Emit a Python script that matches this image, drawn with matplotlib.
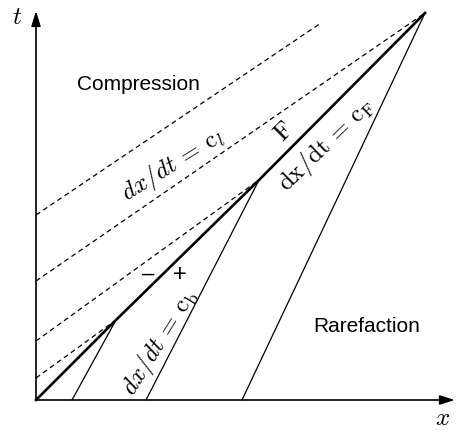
import matplotlib

matplotlib.use("Agg")
import matplotlib.pyplot as plt

plt.rcParams["mathtext.fontset"] = "cm"
plt.rcParams["lines.scale_dashes"] = False

# front (thick line), points where the slope changes
front_x = [0, 80, 223, 389]
front_t = [0, 80, 220, 387]

# rarefaction characteristics (thin solid): foot on x axis -> point on the front
rare_x0 = [36, 110, 206]
rare_x1 = [80, 223, 389]
rare_t1 = [80, 220, 387]

# compression characteristics (dashed): start on t axis -> end point
comp_t0 = [185, 119, 59, 22]
comp_x1 = [285, 389, 223, 80]
comp_t1 = [377, 387, 220, 80]

fig = plt.figure(figsize=(4.57, 4.32), dpi=100)
ax = fig.add_axes([0, 0, 1, 1])
ax.set_xlim(-36, 421)
ax.set_ylim(-32, 400)
ax.axis("off")

# axes with arrows
arrow = dict(arrowstyle="-|>,head_length=0.9,head_width=0.28", lw=1.2, color="black",
             shrinkA=0, shrinkB=0)
ax.annotate("", xy=(0, 389), xytext=(0, 0), arrowprops=arrow)
ax.annotate("", xy=(419, 0), xytext=(0, 0), arrowprops=arrow)
ax.text(-19, 383, "$t$", fontsize=18, ha="center", va="center")
ax.text(407, -18, "$x$", fontsize=18, ha="center", va="center")

for t0, x1, t1 in zip(comp_t0, comp_x1, comp_t1):
    ax.plot([0, x1], [t0, t1], color="black", lw=0.9, dashes=(3.6, 2.6))

for x0, x1, t1 in zip(rare_x0, rare_x1, rare_t1):
    ax.plot([x0, x1], [0, t1], color="black", lw=0.9)

ax.plot(front_x, front_t, color="black", lw=1.9)

ax.text(102, 316, "Compression", fontsize=15, family="Liberation Sans",
        ha="center", va="center")
ax.text(331, 74, "Rarefaction", fontsize=15, family="Liberation Sans",
        ha="center", va="center")

ax.text(137, 235, r"$dx/dt\,=\,\mathrm{c}_l$", fontsize=18, rotation=32,
        ha="center", va="center", rotation_mode="anchor")
ax.text(248, 268, r"$\mathrm{F}$", fontsize=18, rotation=45,
        ha="center", va="center", rotation_mode="anchor")
ax.text(290, 255, r"$\mathrm{dx/dt}\,=\,\mathrm{c}_\mathrm{F}$", fontsize=18, rotation=44,
        ha="center", va="center", rotation_mode="anchor")
ax.text(124, 58, r"$dx/dt\,=\,\mathrm{c}_\mathrm{b}$", fontsize=18, rotation=58,
        ha="center", va="center", rotation_mode="anchor")
ax.text(112, 126, "\u2013", fontsize=16, family="Liberation Sans", ha="center", va="center")
ax.text(144, 125, "+", fontsize=17, family="Liberation Sans", ha="center", va="center")

plt.savefig("out.png", dpi=100)
plt.close()
